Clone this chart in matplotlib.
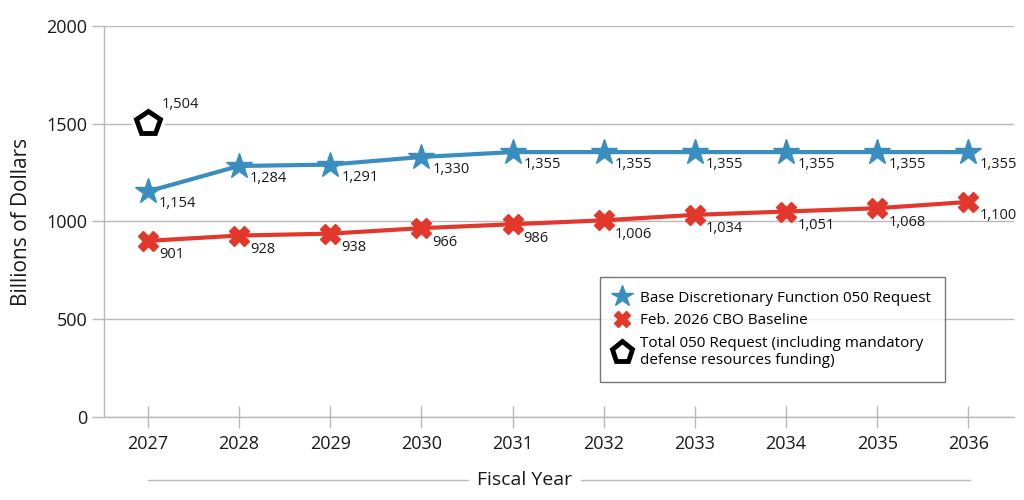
import matplotlib
matplotlib.use('Agg')
import matplotlib.pyplot as plt
from matplotlib.lines import Line2D

plt.rcParams['font.family'] = ['Open Sans', 'DejaVu Sans']

# data
years = [2027, 2028, 2029, 2030, 2031, 2032, 2033, 2034, 2035, 2036]
base_request = [1154, 1284, 1291, 1330, 1355, 1355, 1355, 1355, 1355, 1355]
cbo_baseline = [901, 928, 938, 966, 986, 1006, 1034, 1051, 1068, 1100]
total_year = [2027]
total_request = [1504]

blue = '#3a8ebf'
red = '#e2382c'
grid_c = '#b8b8b8'
txt_c = '#1a1a1a'

fig = plt.figure(figsize=(10.24, 5), dpi=100)
ax = fig.add_axes([0.1016, 0.166, 0.8887, 0.782])

ax.plot(years, base_request, color=blue, lw=3, marker='*', ms=19,
        mec=blue, mfc=blue, zorder=4, label='Base Discretionary Function 050 Request')
ax.plot(years, cbo_baseline, color=red, lw=3, marker='X', ms=14,
        mec=red, mfc=red, zorder=4, label='Feb. 2026 CBO Baseline')
# white halo under the pentagon so gridline breaks like the original
ax.plot(total_year, total_request, ls='none', marker='p', ms=27, mfc='white',
        mec='white', zorder=3)
ax.plot(total_year, total_request, ls='none', marker='p', ms=18, mfc='white',
        mec='black', mew=3.5, zorder=4,
        label='Total 050 Request (including mandatory\ndefense resources funding)')

for x, v in zip(years, base_request):
    ax.annotate(f'{v:,}', (x, v), xytext=(8, -9), textcoords='offset points',
                ha='left', va='center', fontsize=10.5, color=txt_c, zorder=5)
for x, v in zip(years, cbo_baseline):
    ax.annotate(f'{v:,}', (x, v), xytext=(8, -10), textcoords='offset points',
                ha='left', va='center', fontsize=10.5, color=txt_c, zorder=5)
for x, v in zip(total_year, total_request):
    ax.annotate(f'{v:,}', (x, v), xytext=(10, 13), textcoords='offset points',
                ha='left', va='center', fontsize=10.5, color=txt_c, zorder=5)

ax.set_xlim(2026.52, 2036.5)
ax.set_ylim(0, 2000)
ax.set_yticks([0, 500, 1000, 1500, 2000])
ax.set_xticks(years)
ax.grid(axis='y', color=grid_c, lw=1)
ax.set_axisbelow(True)
for s in ['top', 'right']:
    ax.spines[s].set_visible(False)
for s in ['left', 'bottom']:
    ax.spines[s].set_color(grid_c)
    ax.spines[s].set_linewidth(1)
ax.tick_params(axis='y', length=9, color=grid_c, width=1, labelsize=13,
               labelcolor=txt_c, pad=3)
ax.tick_params(axis='x', direction='inout', length=16, color=grid_c, width=1,
               labelsize=13, labelcolor=txt_c, pad=5)
ax.set_ylabel('Billions of Dollars', fontsize=15, color=txt_c, labelpad=10)

leg = ax.legend(loc='lower right', bbox_to_anchor=(0.924, 0.0895), borderaxespad=0,
                fontsize=11, frameon=True, fancybox=False, edgecolor='#555555',
                handlelength=1.0, handletextpad=0.7, borderpad=0.9,
                labelspacing=0.5, markerscale=0.85)
leg.get_frame().set_linewidth(1)
for line in leg.get_lines():
    line.set_linestyle('none')
leg.set_zorder(6)

# "Fiscal Year" with a rule behind it
fig.add_artist(Line2D([148 / 1024, 970 / 1024], [0.04, 0.04], color=grid_c, lw=1))
fig.text(525 / 1024, 0.04, 'Fiscal Year', ha='center', va='center', fontsize=14,
         color=txt_c, bbox=dict(facecolor='white', edgecolor='none', pad=6))

fig.savefig('out.png', dpi=100)
